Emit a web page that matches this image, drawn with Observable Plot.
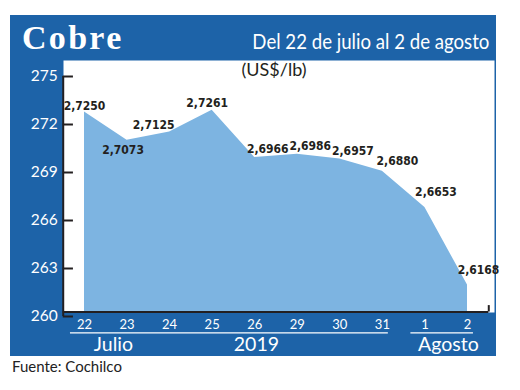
<!DOCTYPE html>
<html>
<head>
<meta charset="utf-8">
<script src="https://cdn.jsdelivr.net/npm/d3@7"></script>
<script src="https://cdn.jsdelivr.net/npm/@observablehq/plot@0.6"></script>
<style>
  html, body { margin: 0; padding: 0; background: #fff; }
  body { width: 520px; height: 390px; position: relative; overflow: hidden; font-family: Lato, "Open Sans", sans-serif; }
  #box { position: absolute; left: 10px; top: 15px; width: 486px; height: 341px; background: #1d63a8; }
  #title { position: absolute; left: 12px; top: 6px; font: bold 34px/34px "Liberation Serif", serif; color: #fff; letter-spacing: 2.3px; white-space: nowrap; }
  #sub { position: absolute; right: 7px; top: 14.7px; font: 21px/21px Lato, sans-serif; color: #fff; white-space: nowrap; transform-origin: right center; display: inline-block; }
  #plot { position: absolute; left: 0; top: 45px; }
  #source { position: absolute; left: 12px; top: 359.4px; font: 15px/15px Lato, sans-serif; color: #222; white-space: nowrap; }
</style>
</head>
<body>
<div id="box">
  <div id="title">Cobre</div>
  <div id="sub">Del 22 de julio al 2 de agosto</div>
  <div id="plot"></div>
</div>
<div id="source">Fuente: Cochilco</div>
<script>
// ---- data ----
const days = ["22", "23", "24", "25", "26", "29", "30", "31", "1", "2"];
const prices = [2.7250, 2.7073, 2.7125, 2.7261, 2.6966, 2.6986, 2.6957, 2.6880, 2.6653, 2.6168]; // US$/lb
const yTicks = [260, 263, 266, 269, 272, 275];
const periodLabels = ["Julio", "2019", "Agosto"];
const monthGroups = [
  {name: "Julio", first: "22", last: "31"},
  {name: "Agosto", first: "1", last: "2"}
];
const unitLabel = "(US$/lb)";

// ---- derived ----
const data = days.map((d, i) => ({i, day: d, v: prices[i] * 100, label: prices[i].toFixed(4).replace(".", ",")}));
const yBase = 260;
const dark = "#1d63a8";
const light = "#7db4e1";
const ink = "#231f20";
const idx = (d) => days.indexOf(d);
const periodPos = [0.68, 4.04, 8.55];
const periods = periodLabels.map((t, k) => ({t, x: periodPos[k]}));

const valueFont = "'Liberation Sans Narrow', 'DejaVu Sans Condensed', Roboto, sans-serif";
const lbl = (filter, dx, dy) => Plot.text(data, {
  filter, x: "i", y: "v", text: "label", dx, dy,
  fontSize: 12, fontWeight: "bold", fill: ink, fontFamily: valueFont,
  ariaLabel: "value-label"
});

const chart = Plot.plot({
  width: 486,
  height: 296,
  marginLeft: 53,
  marginRight: 2,
  marginTop: 0,
  marginBottom: 44,
  x: {type: "linear", domain: [0, 9], range: [74, 457], axis: null},
  y: {domain: [260, 275], range: [251.5, 11.5], axis: null},
  style: {background: "transparent", fontFamily: "Lato, sans-serif", overflow: "visible"},
  marks: [
    Plot.frame({fill: "white", stroke: null}),
    Plot.areaY(data, {x: "i", y1: () => yBase, y2: "v", fill: light, curve: "linear"}),
    // y axis line and ticks
    Plot.ruleX([-0.5], {x: (d) => d, y1: () => 260, y2: () => 275, dy: 4.5, stroke: ink, strokeWidth: 2}),
    Plot.ruleY(yTicks, {y: (d) => d, x1: () => -0.5, x2: () => -0.26, dy: 4.5, stroke: ink, strokeWidth: 2}),
    Plot.text(yTicks, {y: (d) => d, x: () => -0.5, dx: -5.5, dy: 4.5, text: (d) => String(d), textAnchor: "end", fill: "white", fontSize: 15.5}),
    // x axis line
    Plot.ruleY([yBase], {y: (d) => d, x1: () => -0.5, x2: () => 9.5, stroke: ink, strokeWidth: 2}),
    Plot.ruleX([9.5], {x: (d) => d, y1: () => yBase, y2: () => yBase + 0.4, stroke: ink, strokeWidth: 2}),
    // x tick labels
    Plot.text(data, {x: "i", y: () => yBase, text: "day", dy: 12.5, fill: "white", fontSize: 13}),
    // month separators
    Plot.ruleY(monthGroups, {y: () => yBase, x1: (d) => idx(d.first) - 0.33, x2: (d) => idx(d.last) + 0.14, dy: 20.8, stroke: "white", strokeWidth: 1.3}),
    // period labels
    Plot.text(periods, {x: "x", y: () => yBase, text: "t", dy: 32.5, fill: "white", fontSize: 19.5}),
    // unit
    Plot.text([unitLabel], {frameAnchor: "top", lineAnchor: "top", dx: -5, dy: 3, fontSize: 18, fill: ink}),
    // value labels
    lbl((d) => d.i === 0, 0, -6),
    lbl((d) => d.i === 1, -4, 10),
    lbl((d) => d.i === 2, -16, -7),
    lbl((d) => d.i === 3, -5, -7),
    lbl((d) => d.i >= 4 && d.i <= 6, 13, -8),
    lbl((d) => d.i === 7, 15, -10),
    lbl((d) => d.i >= 8, 11, -15)
  ]
});
document.getElementById("plot").appendChild(chart);

// condense value labels to the narrow look of the original
chart.querySelectorAll('g[aria-label="value-label"] text').forEach((t) => {
  t.setAttribute("textLength", 27);
  t.setAttribute("lengthAdjust", "spacingAndGlyphs");
});

// condense subtitle
const sub = document.getElementById("sub");
const w = sub.getBoundingClientRect().width;
if (w > 0) sub.style.transform = `scaleX(${237 / w})`;
</script>
</body>
</html>
